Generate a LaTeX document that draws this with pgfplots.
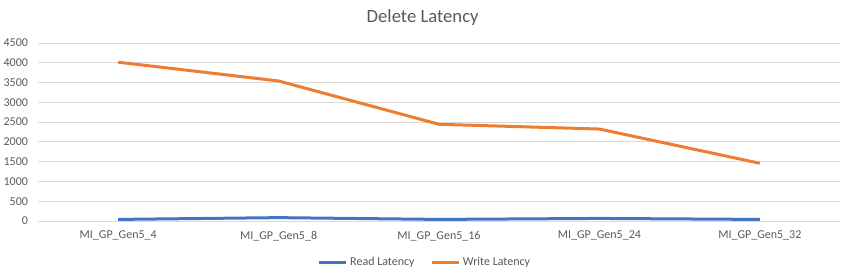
\documentclass[border=0pt]{standalone}
\usepackage{pgfplots}
\pgfplotsset{compat=1.18}
\usepackage{fontspec}
\setmainfont{Carlito}
\definecolor{xlblue}{HTML}{4472C4}
\definecolor{xlorange}{HTML}{ED7D31}
\definecolor{xlgrid}{HTML}{D9D9D9}
\definecolor{xltext}{HTML}{595959}
\begin{document}
\begin{tikzpicture}
\useasboundingbox (0,0) rectangle (635.25pt,207pt);
\node[font=\fontsize{14}{16}\selectfont, text=xltext] at (317pt,193.5pt) {Delete Latency};
\begin{axis}[
  at={(28.5pt,41.25pt)}, anchor=south west,
  scale only axis, width=601.5pt, height=133.5pt,
  xmin=-0.5, xmax=4.5, ymin=0, ymax=4500,
  xtick={0,1,2,3,4},
  xticklabels={MI\_GP\_Gen5\_4, MI\_GP\_Gen5\_8, MI\_GP\_Gen5\_16, MI\_GP\_Gen5\_24, MI\_GP\_Gen5\_32},
  ytick={0,500,...,4500},
  scaled y ticks=false,
  /pgf/number format/assume math mode=true,
  /pgf/number format/1000 sep={},
  ymajorgrids, grid style={xlgrid, line width=0.75pt},
  axis line style={draw=none},
  major tick length=0,
  tick label style={font=\fontsize{9}{11}\selectfont, text=xltext},
  yticklabel style={xshift=-4pt},
  xticklabel style={yshift=-4pt},
  legend style={draw=none, at={(0.483,-0.235)}, anchor=center, legend columns=2,
    font=\fontsize{9}{11}\selectfont, text=xltext,
    /tikz/every even column/.append style={column sep=10pt}},
  legend image code/.code={\draw[#1] (0pt,0pt) -- (20pt,0pt);},
]
\addplot[xlblue, line width=2.25pt, line join=round] coordinates {(0,40) (1,85) (2,40) (3,65) (4,40)};
\addlegendentry{Read Latency}
\addplot[xlorange, line width=2.25pt, line join=round] coordinates {(0,4015) (1,3540) (2,2445) (3,2325) (4,1460)};
\addlegendentry{Write Latency}
\end{axis}
\end{tikzpicture}
\end{document}
